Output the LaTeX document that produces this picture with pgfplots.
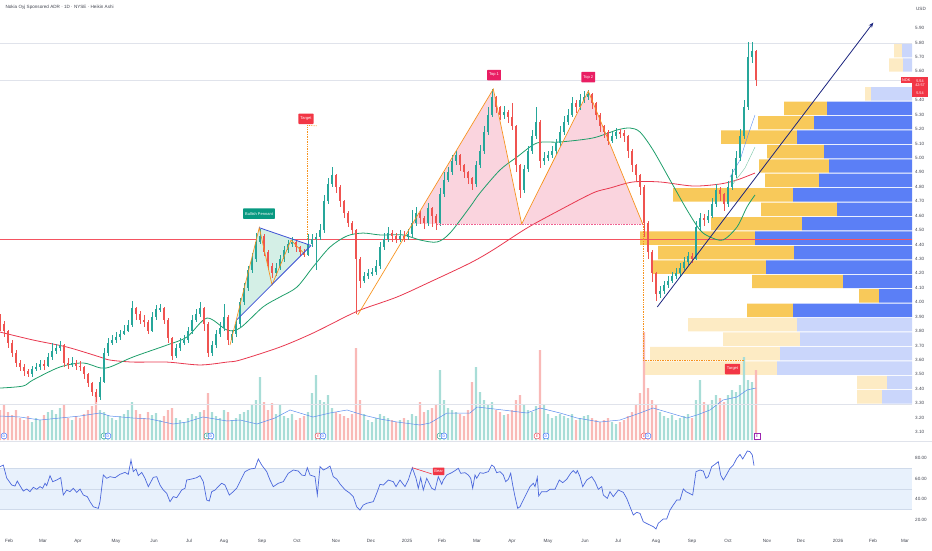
\documentclass[border=0pt]{standalone}
\usepackage{fontspec}
\setmainfont{Liberation Sans}
\usepackage{pgfplots}
\usepackage{pgfplotstable}
\pgfplotsset{compat=1.18}
\usetikzlibrary{arrows.meta}

\definecolor{cup}{HTML}{26A69A}
\definecolor{cdn}{HTML}{EF5350}
\definecolor{vup}{HTML}{A8DDD7}
\definecolor{vdn}{HTML}{F9B9B7}
\definecolor{ma50}{HTML}{1E9E6A}
\definecolor{ma200}{HTML}{E8384F}
\definecolor{pblue}{HTML}{5B7FF6}
\definecolor{pyel}{HTML}{F8C95A}
\definecolor{lblue}{HTML}{CAD6FB}
\definecolor{lyel}{HTML}{FDEBC4}
\definecolor{orng}{HTML}{F7931E}
\definecolor{pinkf}{HTML}{FAD4DE}
\definecolor{pennf}{HTML}{D4EFE6}
\definecolor{penb}{HTML}{3F51D5}
\definecolor{navy}{HTML}{1A237E}
\definecolor{tagred}{HTML}{F23645}
\definecolor{topc}{HTML}{E91E63}
\definecolor{grn}{HTML}{089981}
\definecolor{gridc}{HTML}{E0E3EB}
\definecolor{txt}{HTML}{434651}
\definecolor{rsil}{HTML}{4C68DC}
\definecolor{rsif}{HTML}{E8F1FC}
\definecolor{rsib}{HTML}{CFDAEA}
\definecolor{vma}{HTML}{5C8DEE}
\definecolor{dblue}{HTML}{2962FF}
\definecolor{purp}{HTML}{9C27B0}

\tikzset{evt/.style={circle, draw=#1, fill=white, text=#1, line width=0.4pt, inner sep=0pt, minimum size=6pt, font=\fontsize{3.5}{4}\selectfont},
  tag/.style={fill=#1, text=white, font=\fontsize{4}{4.5}\selectfont, inner xsep=2pt, inner ysep=0pt, minimum height=10.5pt, rounded corners=0.6pt}}

% x = horizontal position on the time scale, o/c/h/l = Heikin Ashi open/close/high/low (USD), v = volume (M)
\pgfplotstableread{
x o c h l v
0 3.88 3.85 3.92 3.80 60
4 3.85 3.80 3.87 3.76 70
8 3.80 3.72 3.81 3.68 56
12 3.72 3.65 3.74 3.62 50
16 3.65 3.58 3.67 3.55 60
20 3.58 3.55 3.60 3.52 44
24 3.55 3.52 3.57 3.49 40
28 3.52 3.50 3.54 3.48 48
32 3.50 3.54 3.56 3.48 36
36 3.54 3.55 3.58 3.52 44
40 3.55 3.57 3.60 3.53 40
44 3.57 3.56 3.60 3.53 50
48 3.56 3.62 3.65 3.55 56
52 3.62 3.66 3.72 3.60 60
56 3.66 3.68 3.71 3.64 52
60 3.68 3.70 3.73 3.66 64
64 3.70 3.58 3.71 3.55 70
68 3.58 3.57 3.61 3.54 44
72 3.57 3.58 3.62 3.55 40
76 3.58 3.56 3.60 3.53 48
80 3.56 3.55 3.59 3.52 44
84 3.55 3.50 3.56 3.47 52
88 3.50 3.44 3.51 3.41 60
92 3.44 3.38 3.45 3.35 68
96 3.38 3.34 3.40 3.31 90
100 3.34 3.45 3.48 3.32 60
104 3.45 3.65 3.68 3.44 56
108 3.65 3.72 3.75 3.63 50
112 3.72 3.74 3.77 3.70 44
116 3.74 3.76 3.79 3.72 40
120 3.76 3.78 3.81 3.74 48
124 3.78 3.80 3.84 3.77 52
128 3.80 3.84 3.88 3.79 60
132 3.84 3.96 4.01 3.83 76
136 3.96 3.92 3.97 3.88 60
140 3.92 3.88 3.94 3.85 52
144 3.88 3.86 3.91 3.83 44
148 3.86 3.80 3.88 3.78 56
152 3.80 3.90 3.93 3.79 50
156 3.90 3.95 3.98 3.88 54
160 3.95 3.96 3.99 3.93 40
164 3.96 3.88 3.97 3.85 48
168 3.88 3.75 3.89 3.72 60
172 3.75 3.63 3.76 3.60 64
176 3.63 3.68 3.71 3.61 44
180 3.68 3.72 3.75 3.66 40
184 3.72 3.74 3.77 3.70 36
188 3.74 3.80 3.83 3.72 44
192 3.80 3.88 3.91 3.78 52
196 3.88 3.92 3.95 3.86 48
200 3.92 3.96 4.00 3.90 56
204 3.96 3.85 3.97 3.80 60
208 3.85 3.65 3.86 3.62 94
212 3.65 3.70 3.73 3.63 56
216 3.70 3.78 3.81 3.68 48
220 3.78 3.82 3.86 3.76 44
224 3.82 3.90 3.99 3.80 60
228 3.90 3.74 3.91 3.70 56
232 3.74 3.78 3.81 3.72 40
236 3.78 3.85 3.88 3.76 44
240 3.85 4.00 4.03 3.83 52
244 4.00 4.10 4.13 3.98 56
248 4.10 4.22 4.25 4.08 60
252 4.22 4.30 4.34 4.20 70
256 4.30 4.42 4.48 4.28 80
260 4.42 4.46 4.51 4.40 126
264 4.46 4.35 4.47 4.32 76
268 4.35 4.25 4.36 4.22 60
272 4.25 4.20 4.27 4.17 74
276 4.20 4.24 4.27 4.18 52
280 4.24 4.30 4.33 4.22 70
284 4.30 4.36 4.39 4.28 48
288 4.36 4.40 4.43 4.34 44
292 4.40 4.42 4.45 4.38 52
296 4.42 4.38 4.43 4.35 40
300 4.38 4.35 4.39 4.32 44
304 4.35 4.33 4.37 4.31 48
308 4.33 4.40 4.47 4.32 56
312 4.40 4.44 4.47 4.38 94
316 4.44 4.45 4.48 4.22 130
320 4.45 4.50 4.54 4.43 80
324 4.50 4.70 4.74 4.48 76
328 4.70 4.82 4.86 4.68 90
332 4.82 4.88 4.94 4.80 64
336 4.88 4.80 4.89 4.76 56
340 4.80 4.70 4.81 4.66 52
344 4.70 4.62 4.71 4.58 48
348 4.62 4.55 4.63 4.52 44
352 4.55 4.50 4.56 4.47 52
356 4.50 4.30 4.51 3.92 184
360 4.30 4.15 4.31 4.10 80
364 4.15 4.18 4.21 4.13 52
368 4.18 4.20 4.23 4.16 40
372 4.20 4.21 4.24 4.18 36
376 4.21 4.25 4.29 4.19 44
380 4.25 4.38 4.42 4.23 52
384 4.38 4.44 4.48 4.36 48
388 4.44 4.48 4.52 4.42 44
392 4.48 4.46 4.50 4.42 40
396 4.46 4.44 4.48 4.41 36
400 4.44 4.46 4.50 4.42 40
404 4.46 4.45 4.49 4.42 44
408 4.45 4.47 4.51 4.43 40
412 4.47 4.55 4.64 4.45 52
416 4.55 4.62 4.66 4.53 48
420 4.62 4.58 4.63 4.54 76
424 4.58 4.55 4.60 4.51 56
428 4.55 4.65 4.69 4.53 60
432 4.65 4.60 4.66 4.52 64
436 4.60 4.55 4.61 4.50 70
440 4.55 4.75 4.79 4.53 140
444 4.75 4.85 4.90 4.73 80
448 4.85 4.90 4.94 4.83 64
452 4.90 4.98 5.02 4.88 60
456 4.98 5.02 5.05 4.95 56
460 5.02 4.95 5.03 4.91 52
464 4.95 4.90 4.96 4.86 48
468 4.90 4.86 4.91 4.82 60
472 4.86 4.82 4.87 4.78 116
476 4.82 4.95 4.98 4.80 146
480 4.95 5.05 5.09 4.93 96
484 5.05 5.18 5.22 5.03 80
488 5.18 5.30 5.35 5.16 70
492 5.30 5.42 5.48 5.28 76
496 5.42 5.35 5.43 5.31 60
500 5.35 5.30 5.36 5.26 56
504 5.30 5.32 5.36 5.27 50
508 5.32 5.28 5.33 5.24 52
512 5.28 5.22 5.38 5.19 60
516 5.22 4.95 5.23 4.90 80
520 4.95 4.78 4.96 4.72 90
524 4.78 4.92 4.95 4.76 70
528 4.92 5.05 5.08 4.90 60
532 5.05 5.15 5.19 5.03 56
536 5.15 5.25 5.35 5.13 68
540 5.25 4.98 5.26 4.93 180
544 4.98 5.00 5.04 4.95 70
548 5.00 5.02 5.05 4.98 52
552 5.02 5.05 5.08 5.00 44
556 5.05 5.10 5.13 5.03 48
560 5.10 5.18 5.22 5.08 52
564 5.18 5.25 5.29 5.16 48
568 5.25 5.30 5.34 5.23 44
572 5.30 5.38 5.42 5.28 52
576 5.38 5.35 5.40 5.31 40
580 5.35 5.40 5.44 5.33 44
584 5.40 5.42 5.46 5.38 48
588 5.42 5.44 5.47 5.40 50
592 5.44 5.38 5.45 5.34 44
596 5.38 5.30 5.39 5.26 40
600 5.30 5.22 5.31 5.18 36
604 5.22 5.18 5.23 5.14 40
608 5.18 5.12 5.19 5.09 44
612 5.12 5.15 5.18 5.10 36
616 5.15 5.18 5.21 5.13 32
620 5.18 5.17 5.20 5.14 36
624 5.17 5.15 5.19 5.11 40
628 5.15 5.05 5.16 5.00 48
632 5.05 4.95 5.06 4.90 56
636 4.95 4.88 4.96 4.83 70
640 4.88 4.80 4.89 4.74 94
644 4.80 4.55 4.81 4.45 216
648 4.55 4.35 4.56 4.30 104
652 4.35 4.20 4.36 4.14 80
656 4.20 4.06 4.21 4.01 70
660 4.06 4.08 4.11 4.03 56
664 4.08 4.12 4.15 4.06 48
668 4.12 4.15 4.18 4.10 44
672 4.15 4.18 4.21 4.13 50
676 4.18 4.20 4.24 4.16 40
680 4.20 4.24 4.27 4.18 44
684 4.24 4.28 4.31 4.22 48
688 4.28 4.32 4.35 4.26 52
692 4.32 4.30 4.34 4.27 44
696 4.30 4.52 4.56 4.29 80
700 4.52 4.58 4.62 4.50 120
704 4.58 4.57 4.61 4.53 76
708 4.57 4.60 4.64 4.55 70
712 4.60 4.68 4.72 4.58 80
716 4.68 4.78 4.82 4.66 90
720 4.78 4.75 4.80 4.70 84
724 4.75 4.68 4.76 4.63 76
728 4.68 4.80 4.84 4.66 90
732 4.80 4.88 4.92 4.78 100
736 4.88 5.00 5.05 4.86 96
740 5.00 5.15 5.20 4.98 110
744 5.15 5.35 5.40 5.13 166
748 5.35 5.70 5.80 5.33 120
752 5.70 5.74 5.80 5.66 116
756 5.74 5.54 5.75 5.50 140
}\candles

% volume profile rows: price centre, opaque up, opaque down, light up, light down (lengths from right edge)
\pgfplotstableread{
p bo yo bl yl
5.7435 0 0 10 8
5.6435 0 0 9 14
5.4435 0 0 41 6
5.3435 85 43 0 0
5.2435 98 56 0 0
5.1435 115 76 0 0
5.0435 88 57 0 0
4.9435 83 70 0 0
4.8435 93 54 0 0
4.7435 119 120 0 0
4.6435 75 76 0 0
4.5435 110 91 0 0
4.4435 157 115 0 0
4.3435 118 136 0 0
4.2435 146 113 0 0
4.1435 69 91 0 0
4.0435 33 20 0 0
3.9435 119 46 0 0
3.8435 0 0 115 109
3.7435 0 0 112 77
3.6435 0 0 132 130
3.5435 0 0 135 133
3.4435 0 0 25 30
3.3435 0 0 30 25
}\profile

\begin{document}
\begin{tikzpicture}[x=1pt,y=1pt]
\path (0,0) rectangle (932,550);

% ---------- volume profile ----------
\begin{axis}[at={(0pt,110pt)}, anchor=south west, width=912pt, height=440pt, scale only axis,
  xmin=0, xmax=912, ymin=3.045, ymax=6.094, x dir=reverse, hide axis,
  enlargelimits=false, xbar stacked, bar width=0.093]
\addplot[fill=pblue, draw=none] table[x=bo, y=p]{\profile};
\addplot[fill=pyel, draw=none] table[x=yo, y=p]{\profile};
\addplot[fill=lblue, draw=none] table[x=bl, y=p]{\profile};
\addplot[fill=lyel, draw=none] table[x=yl, y=p]{\profile};
\end{axis}

% ---------- volume ----------
\begin{axis}[at={(0pt,110pt)}, anchor=south west, width=912pt, height=440pt, scale only axis,
  xmin=0, xmax=912, ymin=0, ymax=880, hide axis, enlargelimits=false]
\addplot[ybar, bar width=2.4pt, bar shift=0pt, fill=vup, draw=none,
  restrict expr to domain={\thisrow{c}-\thisrow{o}}{0:10}] table[x=x, y=v]{\candles};
\addplot[ybar, bar width=2.4pt, bar shift=0pt, fill=vdn, draw=none,
  restrict expr to domain={\thisrow{c}-\thisrow{o}}{-10:-0.0001}] table[x=x, y=v]{\candles};
\addplot[vma, line width=0.5pt] coordinates {(0,48)(20,46)(40,40)(60,44)(80,48)(100,54)(110,48)(133,44)(150,42)(173,32)(187,36)(203,46)(227,38)(240,40)(257,32)(275,44)(290,60)(313,46)(330,54)(347,60)(363,50)(380,42)(397,36)(420,30)(430,34)(447,54)(470,54)(477,66)(503,60)(527,54)(540,64)(560,54)(577,44)(600,36)(620,40)(640,54)(653,64)(670,54)(687,44)(697,50)(710,60)(723,80)(737,86)(747,100)(756,104)};
\end{axis}

% ---------- price ----------
\begin{axis}[at={(0pt,110pt)}, anchor=south west, width=912pt, height=440pt, scale only axis,
  xmin=0, xmax=912, ymin=3.045, ymax=6.094, enlargelimits=false,
  axis line style={draw=none}, major tick length=0pt, xtick=\empty,
  ytick={3.1,3.2,3.3,3.4,3.5,3.6,3.7,3.8,3.9,4.0,4.1,4.2,4.3,4.4,4.5,4.6,4.7,4.8,4.9,5.0,5.1,5.2,5.3,5.4,5.5,5.6,5.7,5.8,5.9},
  yticklabel pos=right,
  yticklabel style={font=\fontsize{4.6}{5}\selectfont, text=txt, anchor=west, inner sep=0pt, xshift=3pt,
    /pgf/number format/.cd, fixed, fixed zerofill, precision=2, assume math mode=true}]
% horizontal reference lines
\addplot[gridc, line width=0.6pt] coordinates {(0,5.796)(912,5.796)};
\addplot[gridc, line width=0.6pt] coordinates {(0,5.54)(912,5.54)};
\addplot[gridc, line width=0.6pt] coordinates {(0,3.29)(912,3.29)};
\addplot[tagred!85, line width=0.6pt] coordinates {(0,4.438)(912,4.438)};
% pattern fills
\addplot[fill=pennf, draw=none] coordinates {(237,3.879)(259.3,4.516)(311,4.393)} -- cycle;
\addplot[fill=pinkf, draw=none] coordinates {(412.3,4.542)(493.3,5.477)(521.7,4.542)(588.3,5.463)(642.7,4.542)} -- cycle;
% moving averages
\addplot[ma200, line width=0.8pt, smooth] coordinates {(0,3.793)(33,3.738)(67,3.689)(100,3.620)(110,3.599)(133,3.585)(167,3.585)(200,3.565)(227,3.585)(240,3.599)(280,3.689)(313,3.786)(347,3.904)(363,3.953)(397,4.036)(430,4.140)(470,4.271)(493,4.362)(527,4.514)(560,4.639)(593,4.757)(610,4.791)(633,4.833)(660,4.833)(693,4.805)(720,4.819)(737,4.847)(755,4.895)};
\addplot[ma50, line width=0.8pt, smooth] coordinates {(0,3.405)(23,3.419)(33,3.461)(60,3.551)(83,3.579)(100,3.545)(110,3.551)(133,3.620)(167,3.703)(187,3.759)(207,3.890)(227,3.807)(240,3.821)(263,3.967)(280,4.036)(297,4.105)(313,4.244)(330,4.382)(347,4.459)(363,4.479)(380,4.466)(403,4.466)(420,4.431)(437,4.417)(450,4.479)(470,4.660)(480,4.757)(500,4.916)(517,5.006)(537,5.103)(560,5.110)(593,5.138)(617,5.193)(630,5.207)(640,5.179)(653,5.055)(670,4.847)(687,4.639)(700,4.500)(710,4.452)(723,4.431)(737,4.521)(747,4.660)(755,4.743)};
\addplot[vma, line width=0.4pt] coordinates {(730,4.867)(740,4.985)(748,5.158)(755,5.297)};
\addplot[ma50!60, line width=0.4pt] coordinates {(733,4.82)(745,4.93)(755,5.075)};
% candles: wicks
\addplot[draw=none, mark=none, restrict expr to domain={\thisrow{c}-\thisrow{o}}{0:10},
  error bars/.cd, y dir=both, y explicit, error mark=none, error bar style={draw=cup, line width=0.6pt}]
  table[x=x, y expr={0.5*(\thisrow{h}+\thisrow{l})}, y error expr={0.5*(\thisrow{h}-\thisrow{l})}]{\candles};
\addplot[draw=none, mark=none, restrict expr to domain={\thisrow{c}-\thisrow{o}}{-10:-0.0001},
  error bars/.cd, y dir=both, y explicit, error mark=none, error bar style={draw=cdn, line width=0.6pt}]
  table[x=x, y expr={0.5*(\thisrow{h}+\thisrow{l})}, y error expr={0.5*(\thisrow{h}-\thisrow{l})}]{\candles};
% candles: bodies
\addplot[draw=none, mark=none, restrict expr to domain={\thisrow{c}-\thisrow{o}}{0:10},
  error bars/.cd, y dir=both, y explicit, error mark=none, error bar style={draw=cup, line width=2.4pt}]
  table[x=x, y expr={0.5*(\thisrow{o}+\thisrow{c})}, y error expr={0.5*abs(\thisrow{c}-\thisrow{o})}]{\candles};
\addplot[draw=none, mark=none, restrict expr to domain={\thisrow{c}-\thisrow{o}}{-10:-0.0001},
  error bars/.cd, y dir=both, y explicit, error mark=none, error bar style={draw=cdn, line width=2.4pt}]
  table[x=x, y expr={0.5*(\thisrow{o}+\thisrow{c})}, y error expr={0.5*abs(\thisrow{c}-\thisrow{o})}]{\candles};
% pennant
\addplot[orng, line width=0.7pt] coordinates {(230,3.703)(259.3,4.516)(272,4.12)(291,4.43)(305,4.33)};
\addplot[penb, line width=0.8pt] coordinates {(259.3,4.516)(311,4.393)};
\addplot[penb, line width=0.8pt] coordinates {(237,3.879)(311,4.393)};
\addplot[orng, densely dotted, line width=0.7pt] coordinates {(307.5,5.225)(307.5,4.44)};
\addplot[orng, densely dotted, line width=0.7pt] coordinates {(307.5,5.225)(317,5.222)};
% double top
\addplot[orng, line width=0.7pt] coordinates {(357.7,3.911)(493.3,5.477)(521.7,4.542)(588.3,5.463)(642.7,4.542)};
\addplot[topc!70, densely dotted, line width=0.6pt] coordinates {(437,4.542)(643,4.542)};
\addplot[orng, densely dotted, line width=0.7pt] coordinates {(643,4.542)(643,3.599)(744,3.599)};
% trend arrow
\addplot[navy, line width=0.8pt, -{Stealth[length=5pt,width=4pt]}] coordinates {(657.3,3.967)(873.3,5.937)};
% labels
\node[tag=grn] at (axis cs:259,4.614) {Bullish Pennant};
\node[tag=tagred] at (axis cs:306,5.271) {Target};
\node[tag=topc] at (axis cs:494,5.574) {Top 1};
\node[tag=topc] at (axis cs:588.3,5.560) {Top 2};
\node[tag=tagred] at (axis cs:732.5,3.537) {Target};
% event markers
\node[evt=dblue] at (axis cs:4,3.073) {D};
\node[evt=grn] at (axis cs:104,3.073) {E};
\node[evt=dblue] at (axis cs:108,3.073) {D};
\node[evt=grn] at (axis cs:207,3.073) {E};
\node[evt=dblue] at (axis cs:211,3.073) {D};
\node[evt=tagred] at (axis cs:318,3.073) {E};
\node[evt=dblue] at (axis cs:323,3.073) {D};
\node[evt=grn] at (axis cs:440,3.073) {E};
\node[evt=dblue] at (axis cs:444,3.073) {D};
\node[evt=tagred] at (axis cs:537,3.073) {E};
\node[evt=dblue] at (axis cs:546,3.073) {D};
\node[evt=tagred] at (axis cs:644,3.073) {E};
\node[evt=dblue] at (axis cs:648,3.073) {D};
\node[draw=purp, fill=white, text=purp, line width=0.4pt, inner sep=0pt, minimum size=6pt, font=\fontsize{3.5}{4}\selectfont] at (axis cs:757,3.073) {E};
\end{axis}

% ---------- RSI ----------
\begin{axis}[at={(0pt,20pt)}, anchor=south west, width=912pt, height=87pt, scale only axis,
  xmin=0, xmax=912, ymin=9.8, ymax=95.1, enlargelimits=false,
  axis line style={draw=none}, major tick length=0pt,
  ytick={20,40,60,80}, yticklabel pos=right,
  yticklabel style={font=\fontsize{4.6}{5}\selectfont, text=txt, anchor=west, inner sep=0pt, xshift=3pt,
    /pgf/number format/.cd, fixed, fixed zerofill, precision=2, assume math mode=true},
  xtick={9,43,78,116,154,189,224,262,297,336,371,407,442,477,512,548,585,618,656,692,728,767,801,838,873,905},
  xticklabels={Feb,Mar,Apr,May,Jun,Jul,Aug,Sep,Oct,Nov,Dec,2025,Feb,Mar,Apr,May,Jun,Jul,Aug,Sep,Oct,Nov,Dec,2026,Feb,Mar},
  xticklabel style={font=\fontsize{4.6}{5}\selectfont, text=txt, anchor=center, yshift=-11pt}]
\addplot[fill=rsif, draw=none] coordinates {(0,30)(912,30)(912,70)(0,70)} -- cycle;
\addplot[rsib, line width=0.5pt] coordinates {(0,70)(912,70)};
\addplot[rsib, line width=0.5pt] coordinates {(0,50)(912,50)};
\addplot[rsib, line width=0.5pt] coordinates {(0,30)(912,30)};
\addplot[rsil, line width=0.7pt] coordinates {(0,71.9)(3.3,73.5)(6.7,60.8)(11.7,53.9)(15,52.9)(17.3,57.8)(20,53.2)(23.3,48)(26.7,50)(30,47.4)(33.3,51.7)(36.7,49.7)(40,52.3)(42.7,50.7)(45,55.6)(46.7,53.3)(50,63.1)(52.7,57.2)(56.7,58.8)(60.7,61.1)(63.3,44.1)(66.7,49)(70,47.4)(73.3,50.7)(76.7,46.7)(80,50)(83.3,44.1)(87.3,42.5)(90,37.6)(93.3,32.6)(98.3,31)(100,37.6)(103.3,63.7)(106.7,60.5)(110,62.1)(115,61.1)(120,64.4)(125,66.3)(128.3,64.4)(131,78.4)(133.3,67)(136,69.6)(138.3,63.1)(141.7,66.3)(145,60.5)(148.3,52.3)(153.3,61.4)(156.7,62.1)(160,53.9)(163.3,49)(166.7,45.8)(170,37.6)(173.3,42.5)(176.7,41.5)(181.7,49)(185,50.7)(186.7,58.8)(191.7,59.8)(196.7,61.1)(200,63.1)(203.3,57.2)(206.7,39.2)(209.3,38.2)(211.7,47.4)(215,49)(218.3,52.3)(221.7,55.6)(225,53.9)(229.3,44.1)(233.3,47.4)(236.7,50.7)(240,57.2)(245,67)(250,69.6)(255,70.3)(258.3,79.4)(261.7,73.5)(266.7,67)(270,58.8)(273.3,52.3)(278.3,55.6)(283.3,57.2)(288.3,65.4)(293.3,68.6)(298.3,67.6)(301.7,63.7)(305,63.1)(307.3,70.9)(310,63.7)(315,62.1)(317.3,44.1)(320,71.9)(323.3,68.6)(326.7,70.3)(330,72.5)(333.3,62.1)(336.7,59.8)(340,54.9)(345,49.3)(350,45.8)(353.3,42.5)(356.7,32.6)(360,29.4)(363.3,34.3)(366.7,36)(373.3,37.6)(376.7,45.8)(380,54.6)(383.3,53.9)(388.3,58.8)(393.3,57.2)(396,52.3)(400,58.8)(405,52.3)(408.3,58.8)(412.3,70.9)(416,60.5)(418.3,50.7)(420.7,61.1)(423.3,49)(426.7,60.5)(431.7,50.7)(435,49)(438.3,62.1)(441.7,54.6)(443.3,58.8)(446.7,63.7)(451.7,66)(455,68)(458.3,70.3)(460.7,65.4)(465,66)(468.3,63.7)(470.7,60.5)(472.7,50.7)(475,63.7)(476.7,60.5)(480,66)(483.3,65.4)(488.3,67)(491.7,73.5)(494,71.9)(496.7,66)(500,67)(503.3,63.7)(505.7,57.2)(508.3,59.5)(510.7,65.4)(512.7,53.9)(515,42.5)(517.7,31.1)(520,32.6)(523.3,39.2)(526.7,45.8)(530,52.3)(533.3,55.6)(535,52.3)(537.3,61.4)(538.7,43.1)(541.7,47.4)(546.7,47.4)(550,49.7)(555,49.7)(559.3,58.8)(562.7,56.2)(566.7,59.5)(570.7,65.4)(573.3,68)(576,65.4)(577.3,68)(580,62.1)(582.7,52.3)(586.7,58.8)(591.7,62.1)(595,57.2)(598.3,49.7)(601.7,52.3)(603.3,44.1)(607.3,40.8)(610,47.4)(613.3,42.5)(618.3,49)(623.3,46.7)(626.7,40.8)(630,32.6)(633.3,24.5)(636.7,27.1)(640,26.1)(643.3,17.9)(648.3,15.4)(653.3,13.1)(656,10.8)(658.3,16.4)(663.3,20.6)(666.7,20.6)(670,29.4)(673.3,34.3)(676.7,39.2)(680,39.2)(683.3,50)(686,47.4)(689.3,45.8)(692.7,44.1)(696,67)(700,68.6)(703.3,67.6)(706,60.5)(708.3,62.1)(711.7,71.9)(715,74.2)(718.3,76.8)(720.7,63.7)(723.3,58.8)(726.7,64.4)(730,70.3)(733.3,73.5)(736.7,80)(740,83.9)(742.7,79.4)(745,83.3)(747.3,87.3)(750,86.6)(752.3,83.3)(754,72.9)};
\addplot[tagred, line width=0.6pt] coordinates {(412.3,70.9)(432,64.7)};
\node[fill=tagred, text=white, font=\fontsize{4}{4.5}\selectfont, inner xsep=1.5pt, inner ysep=0pt, minimum height=7.5pt, rounded corners=0.6pt] at (axis cs:438.7,67.4) {Bear};
\end{axis}

% panel separator, header, price tags
\draw[gridc, line width=0.6pt] (0,109) -- (932,109);
\node[anchor=west, font=\fontsize{4.6}{5}\selectfont, text=txt] at (2,543) {Nokia Oyj Sponsored ADR · 1D · NYSE · Heikin Ashi};
\node[font=\fontsize{4.6}{5}\selectfont, text=txt] at (921,541) {USD};
\node[fill=tagred, text=white, font=\fontsize{3.8}{4}\selectfont, inner sep=0pt, minimum width=11pt, minimum height=6.6pt] at (906.3,470) {NOK};
\node[fill=tagred, text=white, font=\fontsize{3.8}{4.6}\selectfont, inner sep=0pt, minimum width=16pt, minimum height=12.3pt, align=center] at (920,466.8) {5.54\\42:57};
\node[fill=tagred, text=white, font=\fontsize{3.8}{4}\selectfont, inner sep=0pt, minimum width=16pt, minimum height=7.5pt] at (920,457) {5.54};
\pgfresetboundingbox
\path[use as bounding box] (0,0) rectangle (932,550);
\end{tikzpicture}
\end{document}
